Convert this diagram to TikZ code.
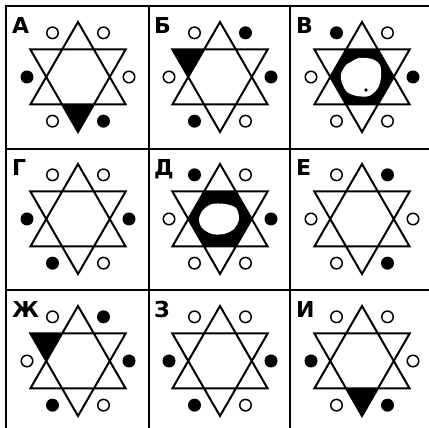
\documentclass[tikz,border=0pt]{standalone}
\usepackage{fontspec}
\setmainfont{DejaVu Sans}

\begin{document}
\begin{tikzpicture}[
    x=1pt, y=1pt, % one unit is one pixel of the sheet
    grid/.style={line width=2.4pt, line cap=rect},
    star/.style={line width=2pt, line join=miter},
    spot0/.style={circle, draw, fill=white, line width=1.5pt, inner sep=0pt, minimum size=11.5pt},
    spot1/.style={circle, fill=black, inner sep=0pt, minimum size=13pt},
    tag/.style={font=\fontsize{22}{22}\selectfont\bfseries, inner sep=0pt, anchor=north west}
]
    \useasboundingbox (0,0) rectangle (429,428);

    % the grid of nine cells
    \foreach \p in {6,149,290} {
        \draw[grid] (\p,0) -- (\p,422);
        \draw[grid] (6,428-\p) -- (429,428-\p);
    }

    % cells: name / column / row / letter / circles from 120 deg clockwise (1 = black)
    \foreach \name/\col/\row/\letter/\marks in {
        a/0/0/А/{0,0,0,1,0,1}, b/1/0/Б/{0,1,1,0,1,0}, v/2/0/В/{1,0,1,0,0,0},
        g/0/1/Г/{0,0,1,0,1,1}, d/1/1/Д/{1,0,1,0,0,0}, e/2/1/Е/{0,1,0,1,0,0},
        zh/0/2/Ж/{0,1,1,0,1,0}, z/1/2/З/{0,0,1,0,1,1}, i/2/2/И/{0,0,0,1,0,1}} {
        \coordinate (\name) at (78+142*\col, 351-142*\row);
        \node[tag] (\name-tag) at (12+142*\col, 411-142*\row) {\letter};
        \draw[star, shift={(\name)}] (90:55) -- (210:55) -- (330:55) -- cycle
            (270:55) -- (30:55) -- (150:55) -- cycle;
        \foreach \m [count=\k] in \marks {
            \pgfmathsetmacro{\ang}{180-60*\k}
            \node[spot\m] (\name-\k) at ([shift={(\ang:51)}]\name) {};
        }
    }

    % black points
    \fill[shift={(a)}] (240:31.75) -- (300:31.75) -- (270:55) -- cycle;
    \fill[shift={(i)}] (240:31.75) -- (300:31.75) -- (270:55) -- cycle;
    \fill[shift={(b)}] (120:31.75) -- (180:31.75) -- (150:55) -- cycle;
    \fill[shift={(zh)}] (120:31.75) -- (180:31.75) -- (150:55) -- cycle;

    % black centres with a white hole
    \fill[shift={(v)}] (0:31.75) -- (60:31.75) -- (120:31.75) -- (180:31.75)
        -- (240:31.75) -- (300:31.75) -- cycle;
    \fill[white, shift={(v)}] plot[smooth cycle] coordinates {(-21,3) (-16,12) (-11,15)
        (-3,19) (10,18) (18,12) (19,0) (16,-11) (7,-19) (-5,-19) (-15,-15) (-20,-6)};
    \fill[shift={(v)}] (4,-13) circle (1.8);
    \fill[shift={(d)}] (0:31.75) -- (60:31.75) -- (120:31.75) -- (180:31.75)
        -- (240:31.75) -- (300:31.75) -- cycle;
    \fill[white, shift={(d)}] plot[smooth cycle] coordinates {(-21,0) (-17,9) (-8,15)
        (5,15) (16,11) (19,0) (14,-10) (4,-15) (-8,-15) (-18,-9)};
\end{tikzpicture}
\end{document}
